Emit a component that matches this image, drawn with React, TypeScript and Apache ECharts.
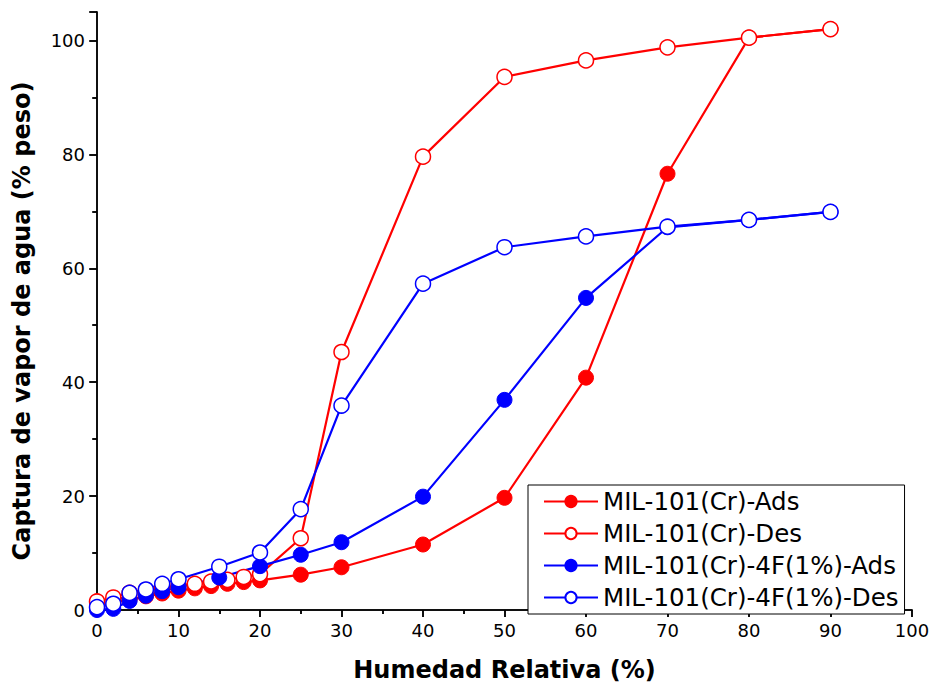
import React, { useEffect, useRef } from "react";
import * as echarts from "echarts";

const redAdsX = [0, 2, 4, 6, 8, 10, 12, 14, 16, 18, 20, 25, 30, 40, 50, 60, 70, 80, 90];
const redAdsY = [0.5, 1.2, 1.9, 2.4, 2.9, 3.4, 3.8, 4.2, 4.6, 4.9, 5.2, 6.2, 7.5, 11.5, 19.7, 40.8, 76.6, 100.5, 102];
const redDesX = [0, 2, 4, 6, 8, 10, 12, 14, 16, 18, 20, 25, 30, 40, 50, 60, 70, 80, 90];
const redDesY = [1.5, 2.2, 3.0, 3.5, 3.9, 4.3, 4.6, 5.0, 5.3, 5.8, 6.3, 12.6, 45.3, 79.6, 93.6, 96.5, 98.8, 100.5, 102];
const blueAdsX = [0, 2, 4, 6, 8, 10, 15, 20, 25, 30, 40, 50, 60, 70, 80, 90];
const blueAdsY = [0, 0.2, 1.6, 2.5, 3.3, 4.0, 5.7, 7.7, 9.7, 11.9, 19.9, 36.9, 54.8, 67.2, 68.5, 69.9];
const blueDesX = [0, 2, 4, 6, 8, 10, 15, 20, 25, 30, 40, 50, 60, 70, 80, 90];
const blueDesY = [0.5, 1.1, 3.0, 3.6, 4.6, 5.4, 7.6, 10.1, 17.7, 35.9, 57.3, 63.7, 65.6, 67.3, 68.5, 69.9];

const names = [
  "MIL-101(Cr)-Ads",
  "MIL-101(Cr)-Des",
  "MIL-101(Cr)-4F(1%)-Ads",
  "MIL-101(Cr)-4F(1%)-Des",
];

const zip = (xs: number[], ys: number[]) => xs.map((x, i) => [x, ys[i]]);

export default function App() {
  const ref = useRef<HTMLDivElement>(null);
  useEffect(() => {
    const chart = echarts.init(ref.current!, null, { renderer: "svg" });
    const font = "DejaVu Sans, Verdana, sans-serif";
    const mk = (name: string, data: number[][], color: string, open: boolean) => ({
      name,
      type: "line",
      data,
      symbol: "circle",
      symbolSize: 15,
      lineStyle: { color, width: 2.2 },
      itemStyle: open
        ? { color: "#ffffff", borderColor: color, borderWidth: 1.5 }
        : { color, borderColor: color, borderWidth: 1 },
      z: 2,
    });
    const axisLine = { show: true, lineStyle: { color: "#000", width: 1.5 } };
    chart.setOption({
      animation: false,
      backgroundColor: "#fff",
      grid: { left: 97, top: 12, width: 815, height: 604, show: false },
      legend: {
        orient: "vertical",
        left: 528,
        top: 485,
        itemWidth: 54,
        itemHeight: 14,
        itemGap: 7,
        itemTextGap: 9,
        padding: [4, 6, 4, 15],
        borderColor: "#000",
        borderWidth: 1,
        backgroundColor: "#fff",
        textStyle: { fontFamily: font, fontSize: 24.5, color: "#000" },
        data: names,
      },
      xAxis: [
        {
          type: "value",
          min: 0,
          max: 100,
          interval: 10,
          position: "bottom",
          name: "Humedad Relativa (%)",
          nameLocation: "middle",
          nameGap: 48,
          nameTextStyle: { fontFamily: font, fontSize: 24, fontWeight: "bold", color: "#000" },
          axisLine,
          axisTick: { show: true, inside: false, length: 7, lineStyle: { color: "#000", width: 1.5 } },
          minorTick: { show: true, splitNumber: 2, length: 4, lineStyle: { color: "#000", width: 1.5 } },
          axisLabel: { fontFamily: font, fontSize: 18, color: "#000", margin: 11 },
          splitLine: { show: false },
        },
        {
          type: "value",
          min: 0,
          max: 100,
          interval: 10,
          position: "top",
          axisLine,
          axisTick: { show: true, inside: true, length: 7, lineStyle: { color: "#000", width: 1.5 } },
          minorTick: { show: true, splitNumber: 2, length: 4, lineStyle: { color: "#000", width: 1.5 } },
          axisLabel: { show: false },
          splitLine: { show: false },
        },
      ],
      yAxis: [
        {
          type: "value",
          min: 0,
          max: 105,
          interval: 20,
          position: "left",
          name: "Captura de vapor de agua (% peso)",
          nameLocation: "middle",
          nameGap: 63,
          nameTextStyle: {
            fontFamily: font,
            fontSize: 24,
            fontWeight: "bold",
            color: "#000",
            padding: [0, 20, 0, 0],
          },
          axisLine,
          axisTick: { show: true, inside: false, length: 8, lineStyle: { color: "#000", width: 1.5 } },
          minorTick: { show: true, splitNumber: 2, length: 5, lineStyle: { color: "#000", width: 1.5 } },
          axisLabel: { fontFamily: font, fontSize: 18, color: "#000", margin: 12, showMaxLabel: false },
          splitLine: { show: false },
        },
        {
          type: "value",
          min: 0,
          max: 105,
          interval: 20,
          position: "right",
          axisLine,
          axisTick: { show: true, inside: true, length: 7, lineStyle: { color: "#000", width: 1.5 } },
          minorTick: { show: true, splitNumber: 2, length: 4, lineStyle: { color: "#000", width: 1.5 } },
          axisLabel: { show: false },
          splitLine: { show: false },
        },
      ],
      series: [
        mk(names[0], zip(redAdsX, redAdsY), "#ff0000", false),
        mk(names[1], zip(redDesX, redDesY), "#ff0000", true),
        mk(names[2], zip(blueAdsX, blueAdsY), "#0000ff", false),
        mk(names[3], zip(blueDesX, blueDesY), "#0000ff", true),
      ],
    });
    return () => chart.dispose();
  }, []);
  return <div ref={ref} style={{ width: 933, height: 687, position: "absolute", left: 0, top: 0 }} />;
}
